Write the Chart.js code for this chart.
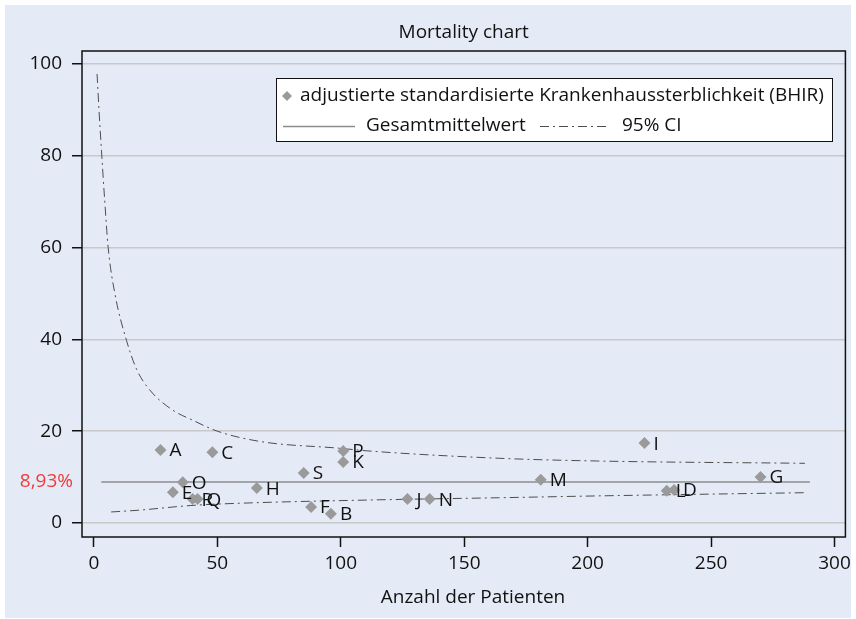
<!DOCTYPE html>
<html>
<head>
<meta charset="utf-8">
<script src="https://cdn.jsdelivr.net/npm/chart.js@4/dist/chart.umd.min.js"></script>
<style>
  html, body { margin: 0; padding: 0; background: #ffffff; }
</style>
</head>
<body>
<canvas id="chart" width="856" height="619"></canvas>
<script>
// hospitals, patient numbers and adjusted mortality (%)
var hospitals = ['A', 'B', 'C', 'D', 'E', 'F', 'G', 'H', 'I', 'J', 'K', 'L', 'M', 'N', 'O', 'P', 'Q', 'R', 'S'];
var patients  = [27, 96, 48, 235, 32, 88, 270, 66, 223, 127, 101, 232, 181, 136, 36, 101, 42, 40, 85];
var mortality = [15.9, 2.0, 15.4, 7.2, 6.7, 3.5, 10.0, 7.6, 17.4, 5.2, 13.3, 7.0, 9.4, 5.2, 8.9, 15.7, 5.2, 5.2, 10.9];

// overall mean and where its line runs
var overallMean = 8.93;
var meanLineN = [3, 290];

// 95% CI curves
var upperN  = [1.3, 2.1, 3.1, 4.4, 5.8, 8.5, 13.2, 17.3, 22.6, 31.9, 40, 50, 68, 99, 111, 164, 204, 288];
var upperCI = [97.8, 89.8, 81, 70.2, 60, 50, 39.8, 33.5, 29.0, 24.6, 22.4, 20.0, 17.7, 16.3, 15.7, 14.1, 13.5, 13.0];
var lowerN  = [7, 18.5, 39, 59, 111, 164, 204, 288];
var lowerCI = [2.4, 2.8, 3.8, 4.3, 5.0, 5.5, 5.9, 6.6];

// tick labels
var xTicks = [0, 50, 100, 150, 200, 250, 300];
var yTicks = [0, 20, 40, 60, 80, 100];

var FONT = '"Open Sans"';
var SIZE = 19;
var pointGrey = '#9a9a9a';
var meanGrey = '#8c8c8c';
var ciGrey = '#4d4d4d';
var ciDash = [9, 4, 2, 4];

// turn two arrays into {x, y} points
var toPoints = function(xs, ys) {
  var out = [];
  for (var i = 0; i < xs.length; i++) {
    out.push({x: xs[i], y: ys[i]});
  }
  return out;
};

// background: white edge, light blue panel
var backgroundPlugin = {
  id: 'background',
  beforeDraw: function(chart) {
    var ctx = chart.ctx;
    ctx.save();
    ctx.fillStyle = '#ffffff';
    ctx.fillRect(0, 0, chart.width, chart.height);
    ctx.fillStyle = '#e5ebf6';
    ctx.fillRect(5, 5, 846, 613);
    ctx.restore();
  }
};

// letters next to each hospital point
var labelPlugin = {
  id: 'pointLabels',
  afterDatasetsDraw: function(chart) {
    var ctx = chart.ctx;
    var meta = chart.getDatasetMeta(0);
    ctx.save();
    ctx.font = SIZE + 'px ' + FONT;
    ctx.fillStyle = '#111111';
    ctx.textAlign = 'left';
    ctx.textBaseline = 'middle';
    meta.data.forEach(function(el, i) {
      ctx.fillText(hospitals[i], el.x + 9, el.y + 1);
    });
    ctx.restore();
  }
};

// frame, axis title, red mean label and the legend box
var extrasPlugin = {
  id: 'extras',
  afterDraw: function(chart) {
    var ctx = chart.ctx;
    var area = chart.chartArea;
    var yScale = chart.scales.y;
    ctx.save();

    // plot frame
    ctx.strokeStyle = '#111111';
    ctx.lineWidth = 1.5;
    ctx.strokeRect(area.left, area.top, area.right - area.left, area.bottom - area.top);

    ctx.font = SIZE + 'px ' + FONT;
    ctx.textBaseline = 'middle';

    // x axis title (sits a little right of centre in the original)
    ctx.fillStyle = '#111111';
    ctx.textAlign = 'center';
    ctx.fillText('Anzahl der Patienten', 473, 598);

    // mean value next to the axis
    ctx.fillStyle = '#f03a3a';
    ctx.textAlign = 'right';
    ctx.fillText(overallMean.toFixed(2).replace('.', ',') + '%', 73, yScale.getPixelForValue(overallMean));

    // legend
    ctx.fillStyle = '#ffffff';
    ctx.fillRect(276, 78, 556, 63);
    ctx.strokeStyle = '#111111';
    ctx.lineWidth = 1;
    ctx.strokeRect(276.5, 78.5, 556, 63);

    ctx.fillStyle = pointGrey;
    ctx.beginPath();
    ctx.moveTo(282, 96);
    ctx.lineTo(287, 91);
    ctx.lineTo(292, 96);
    ctx.lineTo(287, 101);
    ctx.closePath();
    ctx.fill();

    ctx.fillStyle = '#111111';
    ctx.textAlign = 'left';
    ctx.fillText('adjustierte standardisierte Krankenhaussterblichkeit (BHIR)', 300, 96);

    ctx.strokeStyle = meanGrey;
    ctx.lineWidth = 1.5;
    ctx.beginPath();
    ctx.moveTo(283, 126.5);
    ctx.lineTo(355, 126.5);
    ctx.stroke();
    ctx.fillText('Gesamtmittelwert', 366, 126);

    ctx.strokeStyle = ciGrey;
    ctx.lineWidth = 1;
    ctx.setLineDash(ciDash);
    ctx.beginPath();
    ctx.moveTo(540, 126.5);
    ctx.lineTo(610, 126.5);
    ctx.stroke();
    ctx.setLineDash([]);
    ctx.fillText('95% CI', 622, 126);

    ctx.restore();
  }
};

var ctx = document.getElementById('chart').getContext('2d');

var chart = new Chart(ctx, {
  type: 'scatter',
  data: {
    datasets: [
      {
        label: 'adjustierte standardisierte Krankenhaussterblichkeit (BHIR)',
        data: toPoints(patients, mortality),
        pointStyle: 'rectRot',
        pointRadius: 6,
        pointHoverRadius: 6,
        backgroundColor: pointGrey,
        borderWidth: 0
      },
      {
        label: 'Gesamtmittelwert',
        data: toPoints(meanLineN, [overallMean, overallMean]),
        showLine: true,
        pointRadius: 0,
        borderColor: meanGrey,
        borderWidth: 1.5
      },
      {
        label: '95% CI',
        data: toPoints(upperN, upperCI),
        showLine: true,
        cubicInterpolationMode: 'monotone',
        pointRadius: 0,
        borderColor: ciGrey,
        borderWidth: 1,
        borderDash: ciDash
      },
      {
        label: '95% CI lower',
        data: toPoints(lowerN, lowerCI),
        showLine: true,
        cubicInterpolationMode: 'monotone',
        pointRadius: 0,
        borderColor: ciGrey,
        borderWidth: 1,
        borderDash: ciDash
      }
    ]
  },
  options: {
    responsive: false,
    animation: false,
    layout: {padding: {left: 0, top: 0, right: 7, bottom: 0}},
    plugins: {
      legend: {display: false},
      tooltip: {enabled: false},
      title: {
        display: true,
        text: 'Mortality chart',
        fullSize: false,
        color: '#111111',
        font: {family: FONT, size: SIZE, weight: 'normal', lineHeight: 1.2},
        padding: {top: 21, bottom: 7.2}
      }
    },
    scales: {
      x: {
        type: 'linear',
        min: -4.8,
        max: 304.4,
        afterBuildTicks: function(scale) {
          scale.ticks = xTicks.map(function(v) { return {value: v}; });
        },
        afterFit: function(scale) { scale.height = 82; },
        border: {display: false},
        grid: {drawOnChartArea: false, tickLength: 10, tickColor: '#111111', tickWidth: 1.5},
        ticks: {color: '#111111', padding: 5, font: {family: FONT, size: SIZE}}
      },
      y: {
        type: 'linear',
        min: -3.05,
        max: 102.8,
        afterBuildTicks: function(scale) {
          scale.ticks = yTicks.map(function(v) { return {value: v}; });
        },
        afterFit: function(scale) { scale.width = 82; },
        border: {display: false},
        grid: {color: '#c8c8c8', lineWidth: 1.5, tickLength: 10, tickColor: '#111111', tickWidth: 1.5},
        ticks: {color: '#111111', padding: 10, font: {family: FONT, size: SIZE}}
      }
    }
  },
  plugins: [backgroundPlugin, labelPlugin, extrasPlugin]
});
</script>
</body>
</html>
